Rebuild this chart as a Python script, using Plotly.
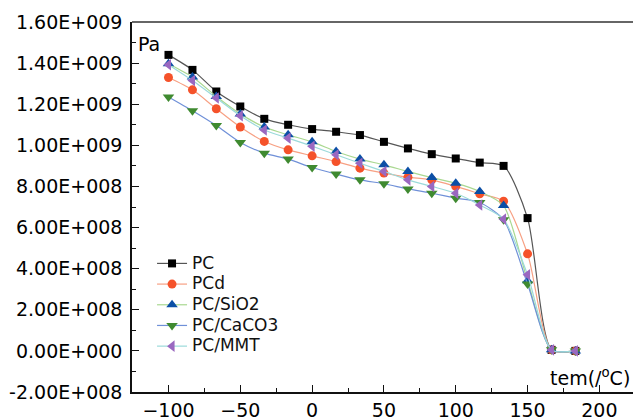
import plotly.graph_objects as go

temps = [-100, -83.3, -66.7, -50, -33.3, -16.7, 0, 16.7, 33.3, 50, 66.7, 83.3,
         100, 116.7, 133.3, 150, 166.7, 183.3]

pc = [1.440e9, 1.367e9, 1.262e9, 1.189e9, 1.129e9, 1.100e9, 1.079e9, 1.066e9, 1.050e9,
      1.017e9, 0.985e9, 0.957e9, 0.936e9, 0.916e9, 0.900e9, 0.646e9, 0.005e9, 0.0]
pcd = [1.330e9, 1.270e9, 1.178e9, 1.089e9, 1.019e9, 0.978e9, 0.949e9, 0.921e9, 0.889e9,
       0.865e9, 0.845e9, 0.832e9, 0.800e9, 0.764e9, 0.728e9, 0.472e9, 0.005e9, 0.0]
pc_sio2 = [1.397e9, 1.332e9, 1.238e9, 1.153e9, 1.089e9, 1.051e9, 1.017e9, 0.970e9, 0.933e9,
           0.905e9, 0.873e9, 0.843e9, 0.816e9, 0.775e9, 0.707e9, 0.341e9, 0.005e9, 0.0]
pc_caco3 = [1.235e9, 1.168e9, 1.096e9, 1.014e9, 0.962e9, 0.933e9, 0.892e9, 0.860e9, 0.832e9,
            0.813e9, 0.788e9, 0.767e9, 0.743e9, 0.722e9, 0.638e9, 0.325e9, 0.005e9, 0.0]
pc_mmt = [1.392e9, 1.315e9, 1.230e9, 1.144e9, 1.075e9, 1.035e9, 0.996e9, 0.954e9, 0.913e9,
          0.873e9, 0.832e9, 0.800e9, 0.767e9, 0.710e9, 0.641e9, 0.370e9, 0.005e9, 0.0]

series_names = ["PC", "PCd", "PC/SiO2", "PC/CaCO3", "PC/MMT"]
series_values = [pc, pcd, pc_sio2, pc_caco3, pc_mmt]

y_tickvals = [-2e8, 0, 2e8, 4e8, 6e8, 8e8, 1e9, 1.2e9, 1.4e9, 1.6e9]
y_ticktext = ["-2.00E+008", "0.00E+000", "2.00E+008", "4.00E+008", "6.00E+008",
              "8.00E+008", "1.00E+009", "1.20E+009", "1.40E+009", "1.60E+009"]
x_tickvals = [-100, -50, 0, 50, 100, 150, 200]

styles = [
    dict(symbol="square", mcolor="#000000", lcolor="#555555", size=8),
    dict(symbol="circle", mcolor="#f5522a", lcolor="#f7a083", size=9),
    dict(symbol="triangle-up", mcolor="#0b4fa6", lcolor="#a9d890", size=10),
    dict(symbol="triangle-down", mcolor="#3f8a30", lcolor="#6f90d8", size=10),
    dict(symbol="triangle-left", mcolor="#9a68c0", lcolor="#9bdada", size=10),
]

fig = go.Figure()
for name, vals, st in zip(series_names, series_values, styles):
    fig.add_trace(go.Scatter(
        x=temps, y=vals, mode="lines+markers",
        name="<span style='font-size:17px'>" + name + "</span>",
        line=dict(color=st["lcolor"], width=1.2, shape="spline", smoothing=0.7),
        marker=dict(symbol=st["symbol"], color=st["mcolor"], size=st["size"],
                    line=dict(width=0)),
    ))

font_main = "DejaVu Sans"
fig.update_layout(
    width=633, height=420,
    margin=dict(l=132, r=0, t=22, b=28),
    paper_bgcolor="white", plot_bgcolor="white",
    font=dict(family=font_main, color="#000000", size=19),
    showlegend=True,
    legend=dict(x=0.04, y=0.389, xanchor="left", yanchor="top",
                bgcolor="rgba(0,0,0,0)", font=dict(size=13.6, family=font_main, color="#111")),
    xaxis=dict(range=[-125.4, 223.4], tickvals=x_tickvals, ticks="inside", ticklen=7,
               tickwidth=1.2, tickcolor="#111", showline=True, linecolor="#111",
               linewidth=1.5, showgrid=False, zeroline=False, automargin=False,
               tickfont=dict(size=19, family=font_main, color="#000"),
               minor=dict(dtick=25, ticks="inside", ticklen=4, tickcolor="#111", showgrid=False),
               ticklabelstandoff=0),
    yaxis=dict(range=[-2e8, 1.6e9], tickvals=y_tickvals, ticktext=y_ticktext,
               ticks="inside", ticklen=7, tickwidth=1.2, tickcolor="#111",
               showline=True, linecolor="#111", linewidth=1.5, showgrid=False,
               zeroline=False, automargin=False,
               tickfont=dict(size=19, family=font_main, color="#000"),
               minor=dict(dtick=1e8, ticks="inside", ticklen=4, tickcolor="#111", showgrid=False),
               ticklabelstandoff=4),
    shapes=[dict(type="line", xref="paper", yref="paper", x0=0, x1=1, y0=1, y1=1,
                 line=dict(color="#666666", width=2))],
    annotations=[
        dict(text="Pa", xref="paper", yref="paper", x=0.008, y=0.94, xanchor="left",
             yanchor="middle", showarrow=False, font=dict(size=19, family=font_main)),
        dict(text="tem(/<sup>o</sup>C)", xref="paper", yref="paper", x=0.998, y=0.04,
             xanchor="right", yanchor="middle", showarrow=False,
             font=dict(size=19, family=font_main)),
    ],
)

fig.write_html(
    "out.html",
    config={"displayModeBar": False},
    post_script="document.body.style.margin='0';document.body.style.overflow='hidden';",
)
